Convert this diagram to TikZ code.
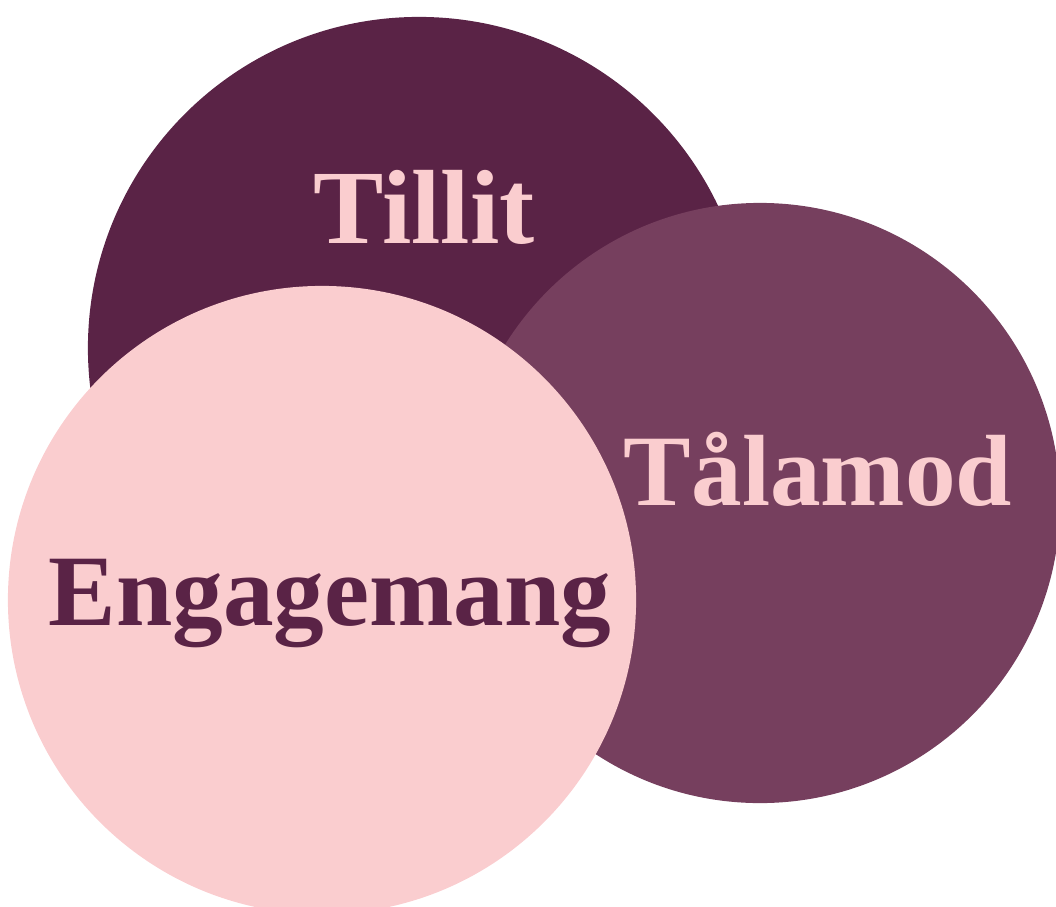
\documentclass[tikz,border=0pt]{standalone}
\usepackage{fontspec}
\setmainfont{Liberation Serif}
\usepackage{xcolor}
\usepackage{tikz}

\definecolor{plum}{HTML}{5A2346}
\definecolor{mauve}{HTML}{763F5E}
\definecolor{blush}{HTML}{FACDCF}

\begin{document}
\begin{tikzpicture}[x=0.025cm, y=-0.025cm,
        bubble/.style={circle, inner sep=0pt, draw=none},
        word/.style={font=\fontsize{72}{80}\selectfont\bfseries, anchor=base}]
                \clip (0,0) rectangle (1056,906);
                
                % Three overlapping circles, back to front
                \node[bubble, fill=plum, minimum size=16.55cm] (tillit) at (419,348) {};
                \node[bubble, fill=mauve, minimum size=15cm] (talamod) at (760,503) {};
                \node[bubble, fill=blush, minimum size=15.7cm] (engagemang) at (322,600) {};
                
                % Labels
                \node[word, text=blush, font=\fontsize{75}{80}\selectfont\bfseries] (tillitText) at (424,243) {Tillit};
                \node[word, text=blush] (talamodText) at (818,505) {Tålamod};
                \node[word, text=plum] (engagemangText) at (330,625) {Engagemang};
            \end{tikzpicture}
\end{document}
